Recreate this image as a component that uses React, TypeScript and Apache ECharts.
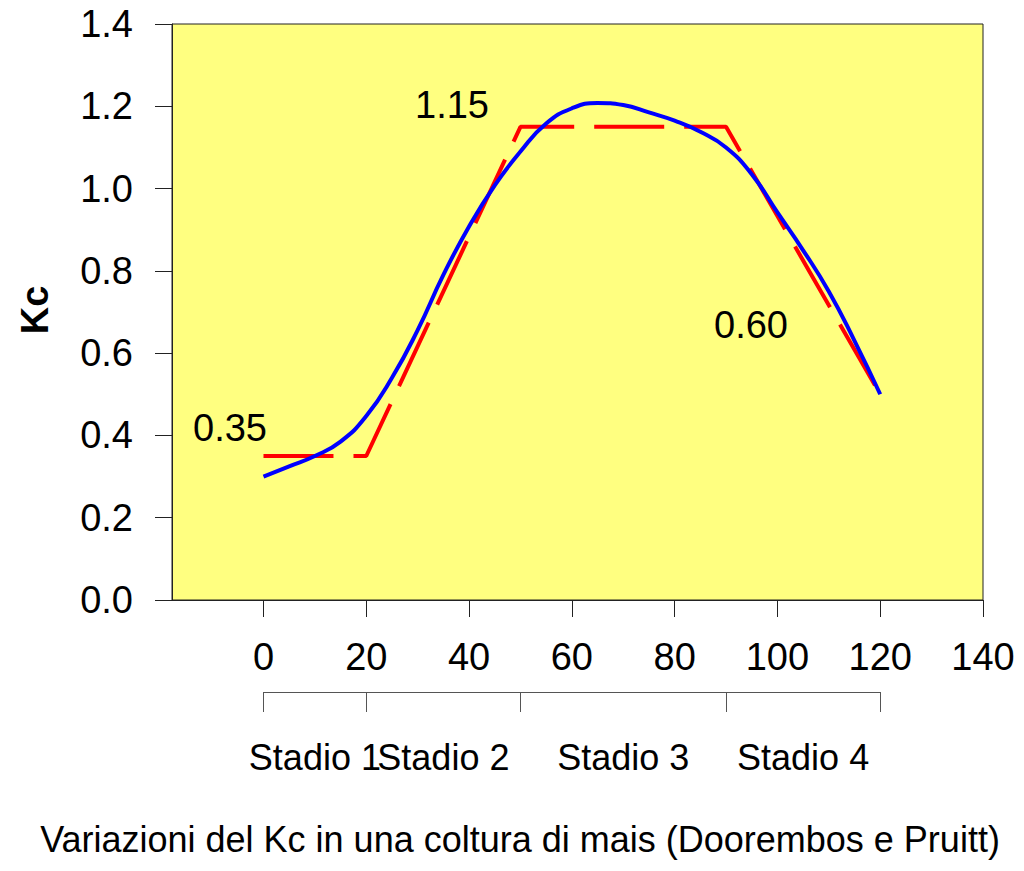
import React, { useEffect, useRef } from "react";
import * as echarts from "echarts";

const curveX = [0, 5, 10, 15, 20, 25, 30, 35, 40, 45, 50, 55, 60, 65, 70, 75, 80, 85, 90, 95, 100, 105, 110, 115, 120];
const curveKc = [0.30, 0.325, 0.35, 0.385, 0.447, 0.54, 0.656, 0.79, 0.908, 1.008, 1.09, 1.158, 1.195, 1.208, 1.203, 1.185, 1.165, 1.138, 1.10, 1.035, 0.942, 0.85, 0.75, 0.63, 0.50];

const fixedX = [0, 20, 50, 90, 120];
const fixedKc = [0.35, 0.35, 1.15, 1.15, 0.5];

const xTicks = [0, 20, 40, 60, 80, 100, 120, 140];
const stageBounds = [0, 20, 50, 90, 120];
const stageCenters = [10, 35, 70, 105];
const stageNames = ["Stadio 1", "Stadio 2", "Stadio 3", "Stadio 4"];

const annotations = [
  { text: "0.35", x: 230, y: 428 },
  { text: "1.15", x: 452, y: 105 },
  { text: "0.60", x: 751, y: 325 },
];

const titleText = "Variazioni del Kc in una coltura di mais (Doorembos e Pruitt)";
const FONT = "'Liberation Sans', Arial, sans-serif";

const stageLabel = (vals: number[]) => ({
  customValues: vals,
  fontSize: 36,
  color: "#000",
  margin: 47,
  fontFamily: FONT,
  showMinLabel: true,
  showMaxLabel: true,
  hideOverlap: false,
  formatter: (v: number) => stageNames[stageCenters.indexOf(v)] ?? "",
});

export default function App() {
  const ref = useRef<HTMLDivElement>(null);
  useEffect(() => {
    if (!ref.current) return;
    const chart = echarts.init(ref.current, null, { renderer: "svg" });
    const option: any = {
      animation: false,
      backgroundColor: "#ffffff",
      textStyle: { fontFamily: FONT },
      grid: [
        {
          left: 172,
          top: 24,
          right: 41,
          bottom: 271,
          show: true,
          backgroundColor: "#FFFF80",
          borderColor: "#222222",
          borderWidth: 1,
        },
        {
          left: 263.5,
          right: 143.8,
          top: 691,
          height: 1,
        },
      ],
      xAxis: [
        {
          type: "value",
          gridIndex: 0,
          min: -17.8,
          max: 140,
          splitLine: { show: false },
          axisLine: { show: true, onZero: false, lineStyle: { color: "#222222", width: 1 } },
          axisTick: { show: true, length: 17, customValues: xTicks, lineStyle: { color: "#222222" } },
          axisLabel: {
            customValues: xTicks,
            fontSize: 38,
            color: "#000",
            margin: 38,
            fontFamily: FONT,
            showMinLabel: true,
            showMaxLabel: true,
          },
        },
        {
          type: "value",
          gridIndex: 1,
          position: "bottom",
          min: 0,
          max: 120,
          splitLine: { show: false },
          axisLine: { show: true, onZero: false, lineStyle: { color: "#555555", width: 1 } },
          axisTick: { show: true, length: 20, customValues: stageBounds, lineStyle: { color: "#555555" } },
          axisLabel: stageLabel([stageCenters[0], stageCenters[2]]),
        },
        {
          type: "value",
          gridIndex: 1,
          position: "bottom",
          offset: 0,
          min: 0,
          max: 120,
          splitLine: { show: false },
          axisLine: { show: false, onZero: false },
          axisTick: { show: false },
          axisLabel: stageLabel([stageCenters[1], stageCenters[3]]),
        },
      ],
      yAxis: [
        {
          type: "value",
          gridIndex: 0,
          min: 0,
          max: 1.4,
          interval: 0.2,
          splitLine: { show: false },
          axisLine: { show: true, onZero: false, lineStyle: { color: "#222222", width: 1 } },
          axisTick: { show: true, length: 17, lineStyle: { color: "#222222" } },
          axisLabel: {
            fontSize: 38,
            color: "#000",
            margin: 39,
            fontFamily: FONT,
            showMinLabel: true,
            showMaxLabel: true,
            formatter: (v: number) => v.toFixed(1),
          },
        },
        { type: "value", gridIndex: 1, min: 0, max: 1, show: false },
      ],
      series: [
        {
          type: "line",
          xAxisIndex: 0,
          yAxisIndex: 0,
          data: fixedX.map((x, i) => [x, fixedKc[i]]),
          showSymbol: false,
          symbol: "none",
          lineStyle: { color: "#FF0000", width: 4, type: [70, 20] },
          z: 2,
        },
        {
          type: "line",
          xAxisIndex: 0,
          yAxisIndex: 0,
          data: curveX.map((x, i) => [x, curveKc[i]]),
          showSymbol: false,
          symbol: "none",
          smooth: 0.5,
          lineStyle: { color: "#0000FF", width: 4 },
          z: 3,
        },
      ],
      graphic: [
        ...annotations.map((a) => ({
          type: "text",
          x: a.x,
          y: a.y,
          z: 10,
          style: {
            text: a.text,
            fontSize: 38,
            fontFamily: FONT,
            fill: "#000",
            textAlign: "center",
            textVerticalAlign: "middle",
          },
        })),
        {
          type: "text",
          x: 35,
          y: 310,
          rotation: Math.PI / 2,
          style: {
            text: "Kc",
            fontSize: 38,
            fontWeight: "bold",
            fontFamily: FONT,
            fill: "#000",
            textAlign: "center",
            textVerticalAlign: "middle",
          },
        },
        {
          type: "text",
          x: 520,
          y: 839,
          style: {
            text: titleText,
            fontSize: 36,
            fontFamily: FONT,
            fill: "#000",
            textAlign: "center",
            textVerticalAlign: "middle",
          },
        },
      ],
    };
    chart.setOption(option);
    return () => chart.dispose();
  }, []);
  return (
    <div
      ref={ref}
      style={{ position: "fixed", left: 0, top: 0, width: 1024, height: 871 }}
    />
  );
}
